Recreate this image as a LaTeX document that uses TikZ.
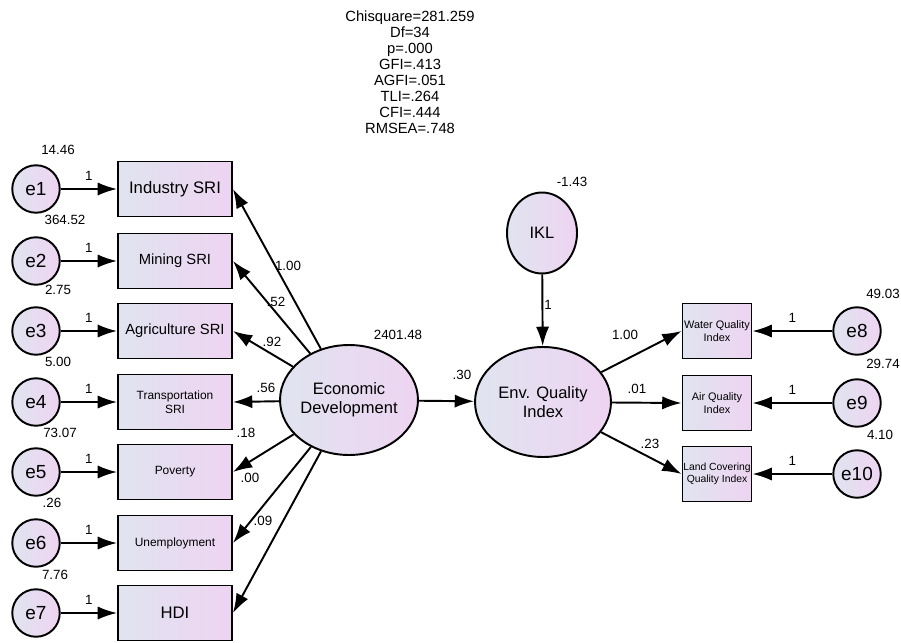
\documentclass[tikz,border=0pt]{standalone}
\usepackage{fontspec}
\setmainfont{Liberation Sans}
\usetikzlibrary{arrows.meta,shapes.geometric}

\definecolor{fillL}{RGB}{224,228,240}
\definecolor{fillR}{RGB}{238,212,241}

\newcommand{\fs}[1]{\fontsize{#1}{1.15\dimexpr#1pt\relax}\selectfont}

\tikzset{
    obs/.style={draw, line width=1.1pt, left color=fillL, right color=fillR,
        minimum width=2.28cm, minimum height=1.1cm, inner sep=1pt, align=center},
    robs/.style={obs, minimum width=1.38cm, inner xsep=0pt, font=\fs{6.2}},
    err/.style={draw, line width=1.1pt, circle, left color=fillL, right color=fillR,
        minimum size=0.95cm, inner sep=0pt, font=\fs{10.8}},
    lat/.style={draw, line width=1.1pt, ellipse, left color=fillL, right color=fillR,
        inner sep=0pt, align=center, font=\fs{9.4}},
    reg/.style={line width=1.1pt, -{Latex[length=11pt,width=7.5pt]}},
    est/.style={font=\fs{7.6}, inner sep=0pt}
}

\begin{document}
\begin{tikzpicture}[x=0.02cm, y=-0.02cm]

        \useasboundingbox (0,0) rectangle (901,642);

        % fit indices
        \node[align=center, font=\fontsize{8.4}{9.1}\selectfont] (fit) at (410,72)
            {Chisquare=281.259\\Df=34\\p=.000\\GFI=.413\\AGFI=.051\\TLI=.264\\CFI=.444\\RMSEA=.748};

        % latent variables
        \node[lat, minimum width=2.76cm, minimum height=2.2cm] (econ) at (349,400)
            {Economic\\Development};
        \node[lat, minimum width=2.72cm, minimum height=2.2cm] (env) at (543,402)
            {Env. Quality\\Index};
        \node[lat, minimum width=1.4cm, minimum height=1.62cm] (ikl) at (542,233) {IKL};

        % indicators of economic development
        \node[obs, font=\fs{9.5}] (ind) at (175,189) {Industry SRI};
        \node[obs, font=\fs{8.4}] (min) at (175,261) {Mining SRI};
        \node[obs, font=\fs{8.4}] (agr) at (175,331) {Agriculture SRI};
        \node[obs, font=\fs{6.8}] (tra) at (175,402) {Transportation\\SRI};
        \node[obs, font=\fs{6.8}] (pov) at (175,472) {Poverty};
        \node[obs, font=\fs{6.8}] (une) at (175,543) {Unemployment};
        \node[obs, font=\fs{9.5}] (hdi) at (175,613) {HDI};

        % indicators of environmental quality
        \node[robs] (wat) at (717,331) {Water Quality\\Index};
        \node[robs] (air) at (717,403) {Air Quality\\Index};
        \node[robs, font=\fs{5.9}] (lnd) at (717,474) {Land Covering\\Quality Index};

        % error terms
        \node[err] (e1) at (36,189) {e1};
        \node[err] (e2) at (36,261) {e2};
        \node[err] (e3) at (36,331) {e3};
        \node[err] (e4) at (36,402) {e4};
        \node[err] (e5) at (36,472) {e5};
        \node[err] (e6) at (36,543) {e6};
        \node[err] (e7) at (36,613) {e7};
        \node[err] (e8) at (857,331) {e8};
        \node[err] (e9) at (857,403) {e9};
        \node[err] (e10) at (857,474) {e10};

        % variances
        \node[est] (v1) at (58,150) {14.46};
        \node[est] (v2) at (65,220) {364.52};
        \node[est] (v3) at (58,290) {2.75};
        \node[est] (v4) at (58,362) {5.00};
        \node[est] (v5) at (60,433) {73.07};
        \node[est] (v6) at (52,503) {.26};
        \node[est] (v7) at (55,575) {7.76};
        \node[est] (v8) at (883,294) {49.03};
        \node[est] (v9) at (883,364) {29.74};
        \node[est] (v10) at (880,435) {4.10};
        \node[est] (vecon) at (398,335) {2401.48};
        \node[est] (vikl) at (572,182) {-1.43};

        % error paths
        \draw[reg] (e1) -- node[est, above=4.5pt] (w1) {1} (ind);
        \draw[reg] (e2) -- node[est, above=4.5pt] (w2) {1} (min);
        \draw[reg] (e3) -- node[est, above=4.5pt] (w3) {1} (agr);
        \draw[reg] (e4) -- node[est, above=4.5pt] (w4) {1} (tra);
        \draw[reg] (e5) -- node[est, above=4.5pt] (w5) {1} (pov);
        \draw[reg] (e6) -- node[est, above=4.5pt] (w6) {1} (une);
        \draw[reg] (e7) -- node[est, above=4.5pt] (w7) {1} (hdi);
        \draw[reg] (e8) -- node[est, above=4.5pt] (w8) {1} (wat);
        \draw[reg] (e9) -- node[est, above=4.5pt] (w9) {1} (air);
        \draw[reg] (e10) -- node[est, above=4.5pt] (w10) {1} (lnd);

        % loadings
        \draw[reg] (econ) -- (ind.east);
        \draw[reg] (econ) -- (min.east);
        \draw[reg] (econ) -- (agr.east);
        \draw[reg] (econ) -- (tra.east);
        \draw[reg] (econ) -- (pov.east);
        \draw[reg] (econ) -- (une.east);
        \draw[reg] (econ) -- (hdi.east);
        \node[est] (b1) at (288,266) {1.00};
        \node[est] (b2) at (276,302) {.52};
        \node[est] (b3) at (272,342) {.92};
        \node[est] (b4) at (266,388) {.56};
        \node[est] (b5) at (246,433) {.18};
        \node[est] (b6) at (250,478) {.00};
        \node[est] (b7) at (263,521) {.09};

        \draw[reg] (econ) -- (env);
        \node[est] (b8) at (462,375) {.30};

        \draw[reg] (ikl) -- (env);
        \node[est] (b9) at (548,305) {1};

        \draw[reg] (env) -- (wat.west);
        \draw[reg] (env) -- (air.west);
        \draw[reg] (env) -- (lnd.west);
        \node[est] (b10) at (625,335) {1.00};
        \node[est] (b11) at (637,389) {.01};
        \node[est] (b12) at (650,444) {.23};

\end{tikzpicture}
\end{document}
